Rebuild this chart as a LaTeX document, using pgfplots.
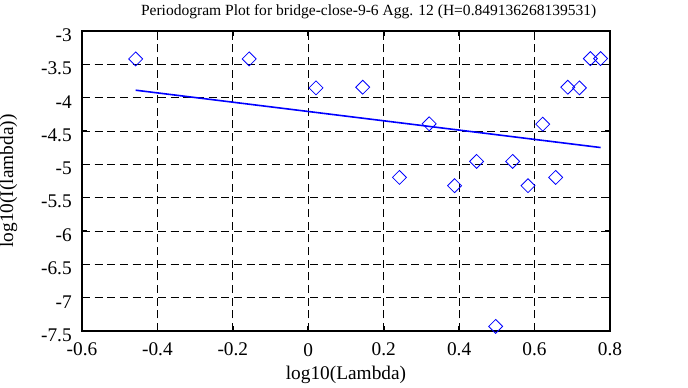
\documentclass[border=0pt]{standalone}
\usepackage{fontspec}
\setmainfont{Liberation Serif}
\usepackage{pgfplots}
\pgfplotsset{compat=1.18}
\begin{document}
\begin{tikzpicture}
\begin{axis}[
  name=ax,
  scale only axis,
  width=396pt, height=225pt,
  xmin=-0.6, xmax=0.8, ymin=-7.5, ymax=-3,
  xtick={-0.6,-0.4,-0.2,0,0.2,0.4,0.6,0.8},
  ytick={-7.5,-7,-6.5,-6,-5.5,-5,-4.5,-4,-3.5,-3},
  /pgf/number format/assume math mode=true,
  /pgf/number format/fixed,
  tick align=inside,
  major tick length=3.5pt,
  tick style={black, line width=1.2pt},
  axis line style={line width=1.6pt},
  grid=major,
  major grid style={black, line width=0.7pt, dash pattern=on 6pt off 3.5pt},
  font=\fontsize{14.5}{16}\selectfont,
  ticklabel style={font=\fontsize{14.5}{16}\selectfont},
  yticklabel style={anchor=east, inner sep=0pt, xshift=-7.5pt, yshift=-3pt},
  xticklabel style={anchor=center, yshift=-14pt},
  title={Periodogram Plot for bridge-close-9-6 Agg. 12 (H=0.849136268139531)},
  title style={at={(axis description cs:0.5,1)}, anchor=base, yshift=5.5pt, xshift=17pt, font=\fontsize{11.65}{13}\selectfont, inner sep=0pt},
  xlabel={log10(Lambda)},
  ylabel={log10(I(lambda))},
  xlabel style={at={(axis description cs:0.5,-0.147)}, anchor=center, inner sep=0pt},
  ylabel style={at={(axis description cs:-0.139,0.5)}, anchor=center, inner sep=0pt},
  clip=false,
]
\addplot[only marks, mark=square, mark size=3.7pt, mark options={rotate=45, blue, line width=0.6pt}] coordinates {
(-0.4577,-3.419) (-0.1567,-3.419) (0.0205,-3.853) (0.1444,-3.843)
(0.748,-3.414) (0.775,-3.414) (0.688,-3.843) (0.719,-3.853)
(0.3206,-4.392) (0.6216,-4.397) (0.4463,-4.956) (0.5419,-4.956)
(0.2418,-5.196) (0.656,-5.196) (0.3879,-5.320) (0.5826,-5.320)
(0.4968,-7.431)
};
\addplot[blue, line width=1.2pt] coordinates {(-0.4577,-3.888) (0.775,-4.748)};
\end{axis}
\pgfresetboundingbox
\path (ax.south west) ++(-61.5pt,-42pt) rectangle ++(516pt,290.25pt);
\end{tikzpicture}
\end{document}
